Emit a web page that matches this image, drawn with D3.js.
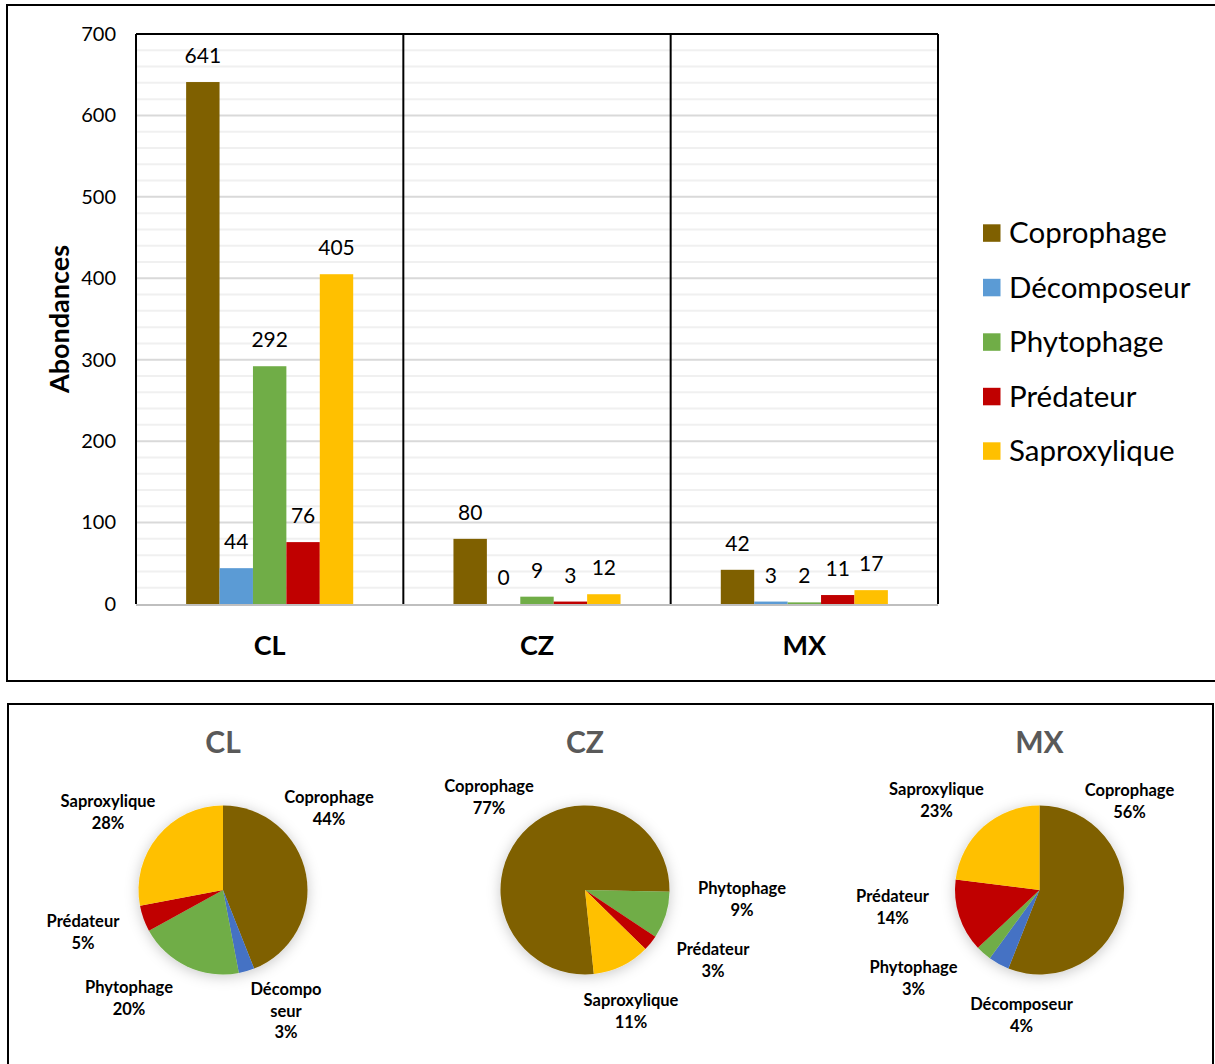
<!DOCTYPE html>
<html>
<head>
<meta charset="utf-8">
<script src="https://cdn.jsdelivr.net/npm/d3@7"></script>
<style>
  html, body { margin: 0; padding: 0; background: #fff; }
  svg { display: block; font-family: Lato, "Open Sans", sans-serif; }
</style>
</head>
<body>
<svg id="chart" width="1215" height="1064"></svg>
<script>
// Sites and trophic groups
const sites = ["CL", "CZ", "MX"];
const groups = ["Coprophage", "Décomposeur", "Phytophage", "Prédateur", "Saproxylique"];

// Abundance per trophic group, one array per site
const abundCL = [641, 44, 292, 76, 405];
const abundCZ = [80, 0, 9, 3, 12];
const abundMX = [42, 3, 2, 11, 17];

// Share of each group per site (%), as shown on the pies
const shareCL = [44, 3, 20, 5, 28];
const shareCZ = [77, 0, 9, 3, 11];
const shareMX = [56, 4, 3, 14, 23];

// Y axis ticks
const yTicks = [0, 100, 200, 300, 400, 500, 600, 700];

// Colours
const barColors = ["#7f6000", "#5b9bd5", "#70ad47", "#c00000", "#ffc000"];
const pieColors = ["#7f6000", "#4472c4", "#70ad47", "#c00000", "#ffc000"];

const svg = d3.select("#chart");

// ---------- panel frames ----------
svg.append("rect").attr("x", 7).attr("y", 5).attr("width", 1220).attr("height", 676)
  .attr("fill", "none").attr("stroke", "#000").attr("stroke-width", 2);
svg.append("rect").attr("x", 8).attr("y", 704).attr("width", 1205).attr("height", 380)
  .attr("fill", "none").attr("stroke", "#000").attr("stroke-width", 2);

// ---------- bar chart ----------
const plot = { left: 136, right: 938, top: 34, bottom: 604 };
const abund = { CL: abundCL, CZ: abundCZ, MX: abundMX };

const y = d3.scaleLinear().domain([0, 700]).range([plot.bottom, plot.top]);
const x0 = d3.scaleBand().domain(sites).range([plot.left, plot.right]).padding(0);
const bw = x0.bandwidth();
const x1 = d3.scaleBand().domain(groups).range([bw * 1.5 / 8, bw * 6.5 / 8]).padding(0);

const bar = svg.append("g");

// minor grid every 20
bar.append("g").selectAll("line")
  .data(d3.range(20, 700, 20).filter(v => v % 100 !== 0))
  .join("line")
  .attr("x1", plot.left).attr("x2", plot.right)
  .attr("y1", d => y(d)).attr("y2", d => y(d))
  .attr("stroke", "#f0f0f0").attr("stroke-width", 2);

// major grid
bar.append("g").selectAll("line")
  .data(yTicks.filter(v => v > 0 && v < 700))
  .join("line")
  .attr("x1", plot.left).attr("x2", plot.right)
  .attr("y1", d => y(d)).attr("y2", d => y(d))
  .attr("stroke", "#d9d9d9").attr("stroke-width", 2);

// bars
const siteG = bar.append("g").selectAll("g")
  .data(sites).join("g")
  .attr("transform", s => `translate(${x0(s)},0)`);

siteG.selectAll("rect")
  .data(s => groups.map((g, i) => ({ g, i, v: abund[s][i] })))
  .join("rect")
  .attr("x", d => x1(d.g))
  .attr("width", x1.bandwidth())
  .attr("y", d => y(d.v))
  .attr("height", d => y(0) - y(d.v))
  .attr("fill", d => barColors[d.i]);

// value labels
siteG.selectAll("text")
  .data(s => groups.map((g, i) => ({ g, i, v: abund[s][i] })))
  .join("text")
  .attr("x", d => x1(d.g) + x1.bandwidth() / 2)
  .attr("y", d => y(d.v) - 19)
  .attr("text-anchor", "middle")
  .attr("font-size", 21)
  .attr("fill", "#000")
  .text(d => d.v);

// bottom axis line
bar.append("line")
  .attr("x1", plot.left).attr("x2", plot.right)
  .attr("y1", y(0) + 1).attr("y2", y(0) + 1)
  .attr("stroke", "#bfbfbf").attr("stroke-width", 2);

// plot frame and site separators
bar.append("line").attr("x1", plot.left).attr("x2", plot.right)
  .attr("y1", plot.top).attr("y2", plot.top)
  .attr("stroke", "#000").attr("stroke-width", 2);
bar.append("g").selectAll("line")
  .data([plot.left, ...sites.map(s => x0(s) + bw)])
  .join("line")
  .attr("x1", d => d).attr("x2", d => d)
  .attr("y1", plot.top).attr("y2", plot.bottom)
  .attr("stroke", "#000").attr("stroke-width", 2);

// y axis
const yAxis = d3.axisLeft(y).tickValues(yTicks).tickSize(0).tickPadding(20);
const ya = bar.append("g").attr("transform", `translate(${plot.left},0)`).call(yAxis);
ya.select(".domain").remove();
ya.selectAll("text").attr("font-size", 20).attr("font-family", "Lato, sans-serif").attr("fill", "#000");

// x axis
const xAxis = d3.axisBottom(x0).tickSize(0).tickPadding(32);
const xa = bar.append("g").attr("transform", `translate(0,${plot.bottom})`).call(xAxis);
xa.select(".domain").remove();
xa.selectAll("text").attr("font-size", 27).attr("font-weight", "bold")
  .attr("font-family", "Lato, sans-serif").attr("fill", "#000");

// y title
bar.append("text")
  .attr("transform", `translate(69,319) rotate(-90)`)
  .attr("text-anchor", "middle")
  .attr("font-size", 27).attr("font-weight", "bold")
  .text("Abondances");

// legend
const leg = bar.append("g").attr("transform", "translate(983,233)");
const legRow = leg.selectAll("g").data(groups).join("g")
  .attr("transform", (d, i) => `translate(0,${i * 54.5})`);
legRow.append("rect").attr("x", 0).attr("y", -8.7).attr("width", 17.5).attr("height", 17.5)
  .attr("fill", (d, i) => barColors[i]);
legRow.append("text").attr("x", 26).attr("y", 0).attr("dy", "0.35em")
  .attr("font-size", 29.5).attr("fill", "#000").text(d => d);

// ---------- pies ----------
const defs = svg.append("defs");
const f = defs.append("filter").attr("id", "pieShadow")
  .attr("x", "-30%").attr("y", "-30%").attr("width", "160%").attr("height", "160%");
f.append("feDropShadow").attr("dx", 0).attr("dy", 2).attr("stdDeviation", 7)
  .attr("flood-color", "#000").attr("flood-opacity", 0.22);

// label offsets from each pie centre, [dx, dy]
const labelCL = [[106, -82], [63, 121], [-94, 108], [-140, 42], [-115, -78]];
const labelCZ = [[-96, -93], null, [157, 9], [128, 70], [46, 121]];
const labelMX = [[90, -89], [-18, 125], [-126, 88], [-147, 17], [-103, -90]];

const pies = [
  { site: "CL", share: shareCL, cx: 223, start: 0, labels: labelCL, split: { 1: ["Décompo", "seur"] } },
  { site: "CZ", share: shareCZ, cx: 585, start: 174, labels: labelCZ, split: {} },
  { site: "MX", share: shareMX, cx: 1039.5, start: 0, labels: labelMX, split: {} }
];
const pieCY = 890, pieR = 84.5;
const arc = d3.arc().innerRadius(0).outerRadius(pieR);

pies.forEach(p => {
  const g = svg.append("g").attr("transform", `translate(${p.cx},${pieCY})`);
  const a0 = p.start * Math.PI / 180;
  const pieGen = d3.pie().value(d => d.v).sort(null).startAngle(a0).endAngle(a0 + 2 * Math.PI);
  const data = pieGen(p.share.map((v, i) => ({ v, i })));

  g.append("g").attr("filter", "url(#pieShadow)")
    .selectAll("path").data(data).join("path")
    .attr("d", arc)
    .attr("fill", d => pieColors[d.data.i]);

  g.append("text").attr("x", 0).attr("y", -pieR - 53)
    .attr("text-anchor", "middle").attr("font-size", 30).attr("font-weight", "bold")
    .attr("fill", "#595959").text(p.site);

  data.forEach(d => {
    const off = p.labels[d.data.i];
    if (!off || d.data.v === 0) return;
    const lines = (p.split[d.data.i] || [groups[d.data.i]]).concat([d.data.v + "%"]);
    const t = g.append("text").attr("text-anchor", "middle")
      .attr("font-size", 16.5).attr("font-weight", "bold").attr("fill", "#000");
    const lh = 21.5;
    lines.forEach((ln, j) => {
      t.append("tspan").attr("x", off[0])
        .attr("y", off[1] + (j - (lines.length - 1) / 2) * lh)
        .attr("dy", "0.35em").text(ln);
    });
  });
});
</script>
</body>
</html>
